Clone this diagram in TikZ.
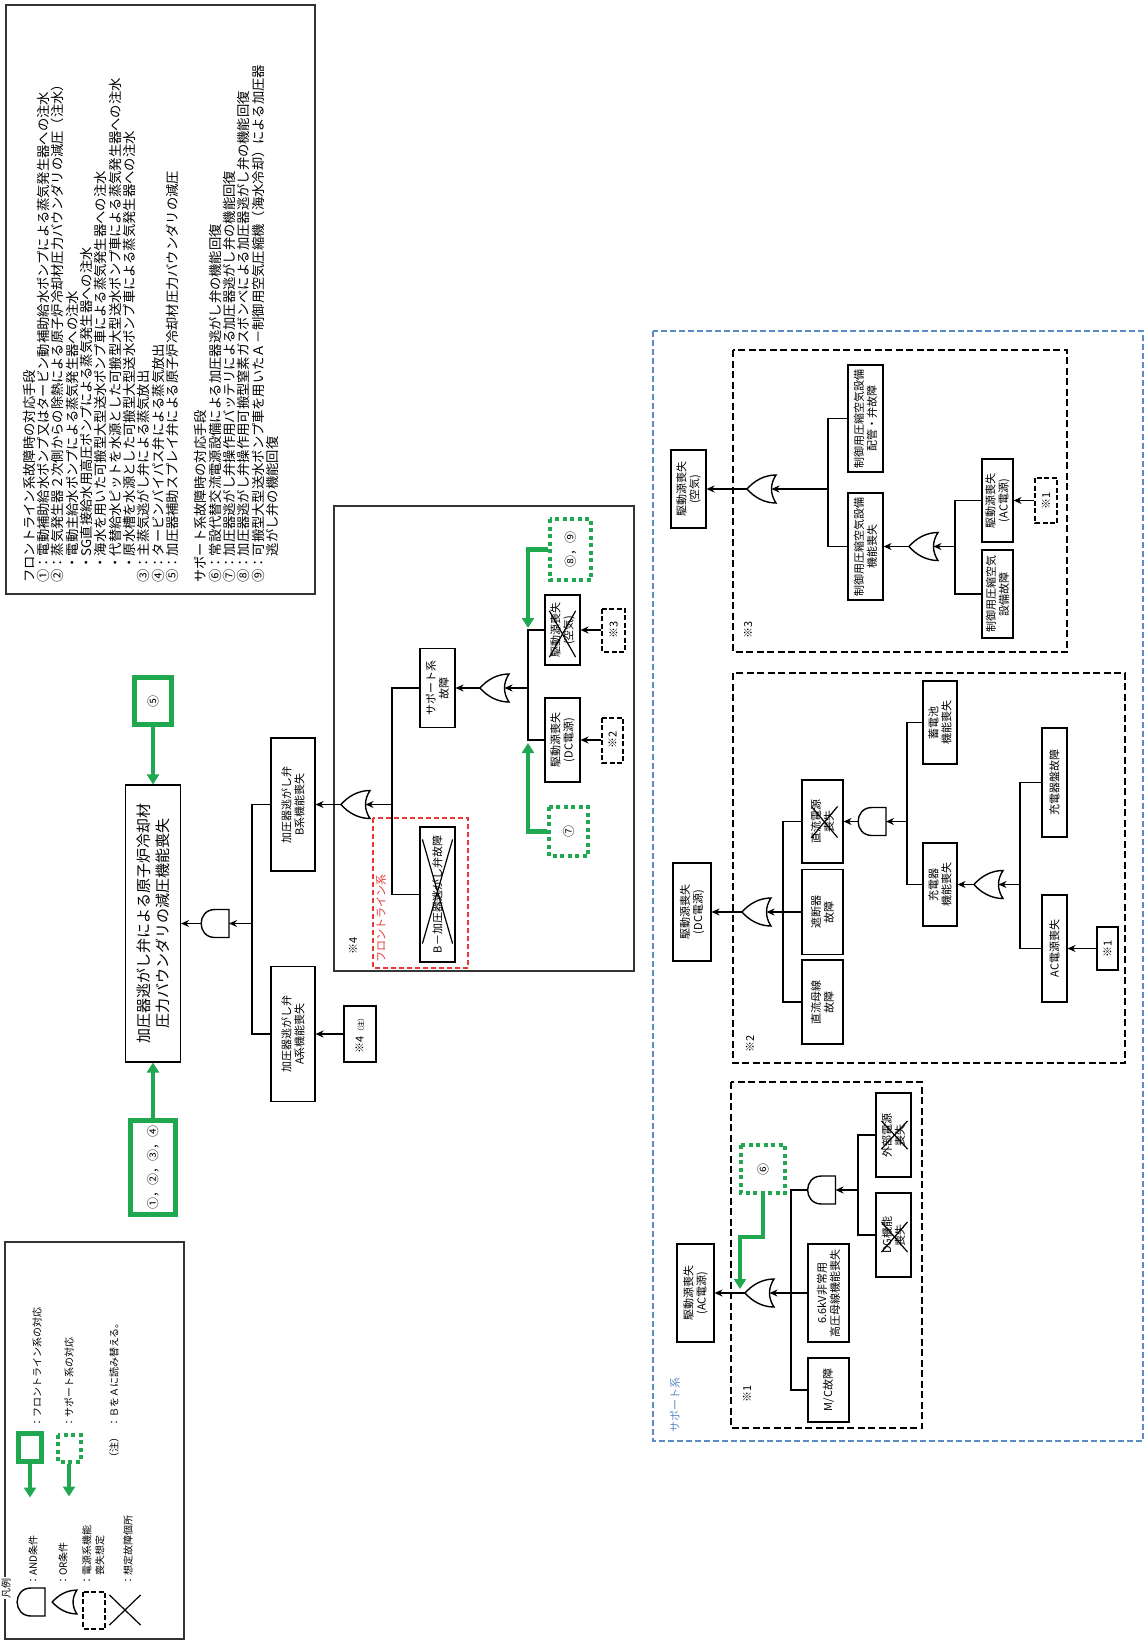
\documentclass[tikz,border=0pt]{standalone}
\usepackage{fontspec}
\setmainfont{Noto Sans CJK JP}
\usetikzlibrary{arrows.meta,shapes.misc,calc}
\definecolor{frontgreen}{HTML}{1FA84F}
\definecolor{supblue}{HTML}{5B8CC8}
\definecolor{frontred}{HTML}{E53935}
\tikzset{
  evbox/.style={draw=black,line width=1.1pt,fill=white,rotate=90,
                align=center,inner sep=1pt,font=\fontsize{11}{13}\selectfont},
  topbox/.style={evbox,font=\fontsize{15}{19}\selectfont},
  refbox/.style={draw=black,line width=2pt,dash pattern=on 5pt off 2.5pt,
                 rotate=90,align=center,inner sep=1pt,font=\fontsize{11}{13}\selectfont},
  grnbox/.style={draw=frontgreen,line width=5pt,rotate=90,inner sep=0pt,
                 font=\fontsize{12}{14}\selectfont},
  grnsup/.style={draw=frontgreen,line width=4pt,dash pattern=on 4pt off 3.5pt,
                 rotate=90,inner sep=0pt,font=\fontsize{12}{14}\selectfont},
  boxsize/.style 2 args={minimum width=#1pt,minimum height=#2pt},
  xmark/.style={cross out,draw=black,line width=1.2pt,inner sep=0pt},
  flowarr/.style={-{Stealth[length=8pt,width=7pt]},line width=1.6pt},
  busline/.style={line width=1.1pt},
  grnarr/.style={draw=frontgreen,line width=4.5pt,-{Triangle[length=10pt,width=12pt]}},
  gate/.style={draw=black,line width=1.4pt,fill=white},
  subframe/.style={draw=black,line width=2.2pt,dash pattern=on 7pt off 3.5pt},
  tagtext/.style={rotate=90,inner sep=0pt,font=\fontsize{11}{13}\selectfont},
  notetext/.style={rotate=90,align=left,inner sep=2pt,font=\fontsize{13.3}{14.3}\selectfont},
  legtext/.style={rotate=90,align=left,inner sep=0pt,font=\fontsize{10}{13}\selectfont},
  orgate/.pic={
    \draw[gate] (14,-14) .. controls (2,-14) and (-8,-8) .. (-15,0)
                .. controls (-8,8) and (2,14) .. (14,14)
                .. controls (8,5) and (8,-5) .. (14,-14) -- cycle;
    \coordinate (-out) at (-15,0);
    \coordinate (-in) at (9.5,0);
  },
  andgate/.pic={
    \draw[gate] (14,-14) -- (0,-14) .. controls (-18.5,-14) and (-18.5,14) .. (0,14)
                -- (14,14) -- cycle;
    \coordinate (-out) at (-14,0);
    \coordinate (-in) at (14,0);
  }
}

\begin{document}
\begin{tikzpicture}[x=1pt,y=-1pt]
  \useasboundingbox (0,0) rectangle (1145,1646);

  % notes on the countermeasures
  \draw[line width=1.2pt,draw=black!80] (6,5) rectangle (315,594);
  \node[notetext,anchor=north west] (notes) at (21,585) {%
    フロントライン系故障時の対応手段\\
    ①：電動補助給水ポンプ又はタービン動補助給水ポンプによる蒸気発生器への注水\\
    ②：蒸気発生器２次側からの除熱による原子炉冷却材圧力バウンダリの減圧（注水）\\
    \hspace*{1em}・電動主給水ポンプによる蒸気発生器への注水\\
    \hspace*{1em}・SG直接給水用高圧ポンプによる蒸気発生器への注水\\
    \hspace*{1em}・海水を用いた可搬型大型送水ポンプ車による蒸気発生器への注水\\
    \hspace*{1em}・代替給水ピットを水源とした可搬型大型送水ポンプ車による蒸気発生器への注水\\
    \hspace*{1em}・原水槽を水源とした可搬型大型送水ポンプ車による蒸気発生器への注水\\
    ③：主蒸気逃がし弁による蒸気放出\\
    ④：タービンバイパス弁による蒸気放出\\
    ⑤：加圧器補助スプレイ弁による原子炉冷却材圧力バウンダリの減圧\\[14.3pt]
    サポート系故障時の対応手段\\
    ⑥：常設代替交流電源設備による加圧器逃がし弁の機能回復\\
    ⑦：加圧器逃がし弁操作用バッテリによる加圧器逃がし弁の機能回復\\
    ⑧：加圧器逃がし弁操作用可搬型窒素ガスボンベによる加圧器逃がし弁の機能回復\\
    ⑨：可搬型大型送水ポンプ車を用いたＡ－制御用空気圧縮機（海水冷却）による加圧器\\
    \hspace*{2em}逃がし弁の機能回復};

  % legend
  \draw[line width=1.2pt,draw=black!80] (5,1242) rectangle (184,1639);
  \node[legtext,fill=white,inner sep=1pt] (legtitle) at (6,1588) {凡例};
  \pic (lgand) at (31,1602) {andgate};
  \pic[scale=0.85] (lgor) at (65,1602) {orgate};
  \node[refbox,boxsize={37}{22}] (lgref) at (94,1610) {};
  \node[xmark,minimum width=30pt,minimum height=29pt] (lgx) at (125,1610) {};
  \node[legtext,anchor=west] (lgandt) at (33,1586) {：AND条件};
  \node[legtext,anchor=west] (lgort) at (63,1586) {：OR条件};
  \node[legtext,anchor=north west] (lgreft) at (82,1586) {：電源系機能\\\hspace*{1em}喪失想定};
  \node[legtext,anchor=west] (lgxt) at (128,1586) {：想定故障個所};
  \node[grnbox,boxsize={28}{23}] (lgfront) at (30,1447) {};
  \draw[grnarr] (lgfront.west) -- ++(0,34);
  \node[grnsup,boxsize={27}{23}] (lgsupport) at (69,1448) {};
  \draw[grnarr] (lgsupport.west) -- ++(0,33);
  \node[legtext,anchor=west] (lgfrontt) at (37,1428) {：フロントライン系の対応};
  \node[legtext,anchor=west] (lgsupt) at (69,1428) {：サポート系の対応};
  \node[legtext] (lgnote) at (114,1447) {（注）};
  \node[legtext,anchor=west] (lgnotet) at (114,1428) {：ＢをＡに読み替える。};

  % top event
  \node[topbox,boxsize={277}{55}] (top) at (153,923.5)
    {加圧器逃がし弁による原子炉冷却材\\圧力バウンダリの減圧機能喪失};
  \node[grnbox,boxsize={47}{37}] (s5) at (153,701) {⑤};
  \node[grnbox,boxsize={94}{45}] (s1234) at (153,1167.5) {①，②，③，④};
  \draw[grnarr] (s5.west) -- (top.east);
  \draw[grnarr] (s1234.east) -- (top.west);

  \pic (g1) at (215,923.5) {andgate};
  \draw[flowarr] (g1-out) -- (top.south);
  \node[evbox,boxsize={133}{44}] (pB) at (293,804.5) {加圧器逃がし弁\\B系機能喪失};
  \node[evbox,boxsize={135}{44}] (pA) at (293,1034) {加圧器逃がし弁\\A系機能喪失};
  \coordinate (j1) at (252,923.5);
  \draw[busline] (pB.north) -| (j1) |- (pA.north);
  \draw[flowarr] (j1) -- (g1-in);
  \node[evbox,boxsize={56}{32}] (n4) at (360,1034) {※4\,{\fontsize{7}{8}\selectfont（注）}};
  \draw[flowarr] (n4.north) -- (pA.south);

  % frame *4
  \draw[line width=1.2pt,draw=black!80] (334,506) rectangle (634,971);
  \draw[frontred,line width=1.6pt,dash pattern=on 5pt off 3pt] (373,818) rectangle (468,968);
  \node[tagtext] (t4) at (353,946) {※4};
  \node[tagtext,text=frontred,anchor=west] (tfront) at (381,963) {フロントライン系};

  \pic (g2) at (356,804.5) {orgate};
  \draw[flowarr] (g2-out) -- (pB.south);
  \node[evbox,boxsize={79}{35}] (sup) at (437.5,688) {サポート系\\故障};
  \node[evbox,boxsize={135}{35}] (bvalve) at (437.5,894.5) {B－加圧器逃がし弁故障};
  \node[xmark,minimum width=29pt,minimum height=103pt] (xb) at (437.5,891.5) {};
  \coordinate (j2) at (392,804.5);
  \draw[busline] (sup.north) -| (j2) |- (bvalve.north);
  \draw[flowarr] (j2) -- (g2-in);

  \pic (g3) at (495,688) {orgate};
  \draw[flowarr] (g3-out) -- (sup.south);
  \node[evbox,boxsize={70}{35}] (airB) at (562.5,630) {駆動源喪失\\(空気)};
  \node[xmark,minimum width=25pt,minimum height=45pt] (xair) at (562.5,634) {};
  \node[evbox,boxsize={84}{35}] (dcB) at (562.5,740) {駆動源喪失\\(DC電源)};
  \coordinate (j3) at (528,688);
  \draw[busline] (airB.north) -| (j3) |- (dcB.north);
  \draw[flowarr] (j3) -- (g3-in);
  \node[refbox,boxsize={43}{23}] (r3) at (613.5,630) {※3};
  \node[refbox,boxsize={45}{21}] (r2) at (612.5,740) {※2};
  \draw[flowarr] (r3.north) -- (airB.south);
  \draw[flowarr] (r2.north) -- (dcB.south);
  \node[grnsup,boxsize={49}{39}] (s7) at (568.5,831.5) {⑦};
  \node[grnsup,boxsize={61}{41}] (s89) at (570.5,549.5) {⑧，⑨};
  \coordinate (j3a) at (528,628);
  \coordinate (j3b) at (528,743);
  \draw[grnarr] (s7.north) -| (j3b);
  \draw[grnarr] (s89.north) -| (j3a);

  % support systems
  \draw[supblue,line width=1.5pt,dash pattern=on 6pt off 3pt] (653,331) rectangle (1143,1441);
  \node[tagtext,text=supblue,anchor=west] (tsup) at (675,1433) {サポート系};

  % frame *3
  \draw[subframe] (733,350) rectangle (1067,652);
  \node[tagtext] (t3) at (748,630) {※3};
  \node[evbox,boxsize={78}{35}] (airS) at (688.5,489) {駆動源喪失\\(空気)};
  \pic (g4) at (762,489) {orgate};
  \draw[flowarr] (g4-out) -- (airS.south);
  \node[evbox,boxsize={107}{35}] (pipe) at (865.5,418.5) {制御用圧縮空気設備\\配管・弁故障};
  \node[evbox,boxsize={107}{35}] (casf) at (865.5,546.5) {制御用圧縮空気設備\\機能喪失};
  \coordinate (j4) at (828,489);
  \draw[busline] (pipe.north) -| (j4) |- (casf.north);
  \draw[flowarr] (j4) -- (g4-in);
  \pic (g5) at (924,546.5) {orgate};
  \draw[flowarr] (g5-out) -- (casf.south);
  \node[evbox,boxsize={83}{31}] (acS3) at (997.5,500.5) {駆動源喪失\\(AC電源)};
  \node[evbox,boxsize={88}{31}] (caeq) at (997.5,594) {制御用圧縮空気\\設備故障};
  \coordinate (j5) at (955,546.5);
  \draw[busline] (acS3.north) -| (j5) |- (caeq.north);
  \draw[flowarr] (j5) -- (g5-in);
  \node[refbox,boxsize={45}{22}] (r1c) at (1046,500.5) {※1};
  \draw[flowarr] (r1c.north) -- (acS3.south);

  % frame *2
  \draw[subframe] (733,673) rectangle (1125,1063);
  \node[tagtext] (t2) at (750,1044) {※2};
  \node[evbox,boxsize={98}{38}] (dcS) at (692,912) {駆動源喪失\\(DC電源)};
  \pic (g6) at (757,912) {orgate};
  \draw[flowarr] (g6-out) -- (dcS.south);
  \node[evbox,boxsize={83}{41}] (dcpw) at (822.5,821.5) {直流電源\\喪失};
  \node[xmark,minimum width=25pt,minimum height=30pt] (xdc) at (824.5,822) {};
  \node[evbox,boxsize={85}{41}] (brk) at (822.5,912) {遮断器\\故障};
  \node[evbox,boxsize={84}{41}] (dcbus) at (822.5,1002) {直流母線\\故障};
  \coordinate (j6) at (783,912);
  \draw[busline] (dcpw.north) -| (j6) |- (dcbus.north);
  \draw[busline] (brk.north) -- (j6);
  \draw[flowarr] (j6) -- (g6-in);
  \pic (g7) at (872,821.5) {andgate};
  \draw[flowarr] (g7-out) -- (dcpw.south);
  \node[evbox,boxsize={83}{34}] (bat) at (940,722.5) {蓄電池\\機能喪失};
  \node[evbox,boxsize={83}{34}] (chg) at (940,884.5) {充電器\\機能喪失};
  \coordinate (j7) at (907,821.5);
  \draw[busline] (bat.north) -| (j7) |- (chg.north);
  \draw[flowarr] (j7) -- (g7-in);
  \pic (g8) at (989,884.5) {orgate};
  \draw[flowarr] (g8-out) -- (chg.south);
  \node[evbox,boxsize={109}{25}] (chgp) at (1054.5,782.5) {充電器盤故障};
  \node[evbox,boxsize={107}{25}] (acl) at (1054.5,948.5) {AC電源喪失};
  \coordinate (j8) at (1020,884.5);
  \draw[busline] (chgp.north) -| (j8) |- (acl.north);
  \draw[flowarr] (j8) -- (g8-in);
  \node[evbox,boxsize={43}{21}] (r1b) at (1107.5,948.5) {※1};
  \draw[flowarr] (r1b.north) -- (acl.south);

  % frame *1
  \draw[subframe] (731,1082) rectangle (922,1428);
  \node[tagtext] (t1) at (747,1394) {※1};
  \node[evbox,boxsize={98}{37}] (acS1) at (695.5,1293) {駆動源喪失\\(AC電源)};
  \pic (g9) at (760,1293) {orgate};
  \draw[flowarr] (g9-out) -- (acS1.south);
  \pic (g10) at (821.5,1190) {andgate};
  \node[evbox,boxsize={98}{41}] (hv) at (828.5,1293) {6.6kV非常用\\高圧母線機能喪失};
  \node[evbox,boxsize={64}{41}] (mc) at (828.5,1390) {M/C故障};
  \coordinate (j9) at (791,1293);
  \draw[busline] (g10-out) -| (j9) |- (mc.north);
  \draw[busline] (hv.north) -- (j9);
  \draw[flowarr] (j9) -- (g9-in);
  \node[evbox,boxsize={84}{35}] (ext) at (893.5,1135) {外部電源\\喪失};
  \node[xmark,minimum width=25pt,minimum height=27pt] (xext) at (894.5,1135) {};
  \node[evbox,boxsize={84}{35}] (dg) at (893.5,1235) {DG機能\\喪失};
  \node[xmark,minimum width=25pt,minimum height=29pt] (xdg) at (894.5,1237) {};
  \coordinate (j10) at (858,1190);
  \draw[busline] (ext.north) -| (j10) |- (dg.north);
  \draw[flowarr] (j10) -- (g10-in);
  \node[grnsup,boxsize={48}{44}] (s6) at (763,1169) {⑥};
  \coordinate (j9g) at (740,1289);
  \draw[grnarr] (s6.west) -- ++(0,42) -| (j9g);
\end{tikzpicture}
\end{document}
